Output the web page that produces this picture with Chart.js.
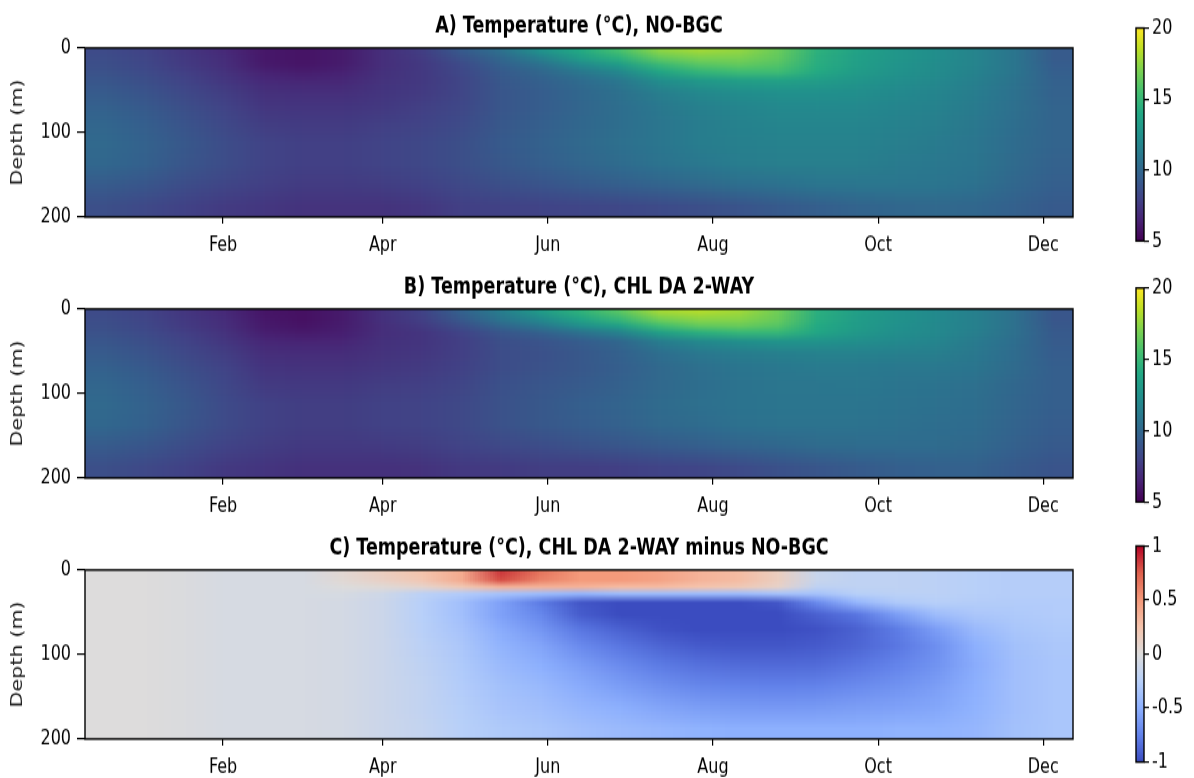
<!DOCTYPE html>
<html><head><meta charset="utf-8">
<script src="https://cdn.jsdelivr.net/npm/chart.js@4.4.1/dist/chart.umd.min.js"></script>
<style>
html,body{margin:0;padding:0;background:#fff;}
#wrap{position:relative;width:1194px;height:778px;overflow:hidden;}
canvas{position:absolute;transform-origin:0 0;}
</style></head><body><div id="wrap">
<canvas id="pA"></canvas><canvas id="pB"></canvas><canvas id="pC"></canvas>
<canvas id="cA"></canvas><canvas id="cB"></canvas><canvas id="cC"></canvas>
</div>
<script>
// ---- data ----
const days = [-12.7,1.9,16.5,31.1,45.7,60.3,74.9,89.5,104.1,118.7,133.3,147.9,162.5,177.1,191.7,206.3,220.9,235.5,250.1,264.7,279.3,293.9,308.5,323.1,337.7];
const depthEdges = [0,8,16,24,32,45,60,80,100,125,150,175,200];
const monthTickDays = [31,90,151,212,273,334];
const monthTickLabels = ['Feb','Apr','Jun','Aug','Oct','Dec'];
const depthTicks = [0,100,200];
const tempTicks = [5,10,15,20];
const diffTicks = [-1,-0.5,0,0.5,1];
const titles = ['A) Temperature (°C), NO-BGC','B) Temperature (°C), CHL DA 2-WAY','C) Temperature (°C), CHL DA 2-WAY minus NO-BGC'];

// one array per time column, values per depth layer (top to bottom)
const tempA = [
 [8.4,8.5,8.6,8.8,9.0,9.3,9.6,9.9,10.1,10.0,9.3,8.6],
 [8.0,8.1,8.2,8.4,8.6,8.9,9.2,9.5,9.7,9.6,9.0,8.3],
 [7.4,7.5,7.6,7.8,8.0,8.3,8.6,8.9,9.1,9.0,8.5,7.9],
 [6.8,6.9,7.0,7.2,7.4,7.7,8.0,8.3,8.5,8.5,8.1,7.6],
 [6.0,6.0,6.1,6.4,6.8,7.1,7.4,7.7,8.0,8.0,7.8,7.4],
 [5.8,5.8,5.9,6.2,6.6,7.0,7.3,7.6,7.8,7.8,7.6,7.2],
 [6.1,6.1,6.2,6.4,6.7,7.0,7.3,7.6,7.8,7.8,7.6,7.2],
 [7.0,7.0,7.0,7.1,7.2,7.3,7.5,7.8,8.0,8.0,7.7,7.2],
 [7.7,7.6,7.5,7.5,7.5,7.6,7.8,8.0,8.2,8.2,7.9,7.4],
 [9.2,8.8,8.4,8.2,8.1,8.1,8.2,8.4,8.6,8.6,8.3,7.8],
 [10.5,10.0,9.6,9.3,9.1,9.0,9.0,9.1,9.2,9.1,8.6,7.9],
 [12.5,11.5,10.6,10.0,9.6,9.4,9.4,9.5,9.6,9.5,8.9,8.0],
 [14.0,13.2,12.0,11.0,10.3,10.0,9.9,10.0,10.1,9.9,9.2,8.1],
 [15.5,14.5,13.2,12.0,11.0,10.6,10.4,10.4,10.5,10.3,9.5,8.2],
 [17.3,16.3,15.0,13.8,12.3,11.4,11.0,10.9,10.9,10.7,9.8,8.4],
 [17.8,17.0,16.0,14.8,13.0,12.0,11.5,11.3,11.3,11.0,10.1,8.6],
 [17.5,17.0,16.3,15.3,13.4,12.3,11.8,11.6,11.5,11.3,10.4,8.9],
 [16.5,16.3,15.9,15.3,13.6,12.5,12.0,11.8,11.6,11.4,10.6,9.2],
 [14.5,14.4,14.3,14.1,13.3,12.5,12.1,11.8,11.6,11.4,10.8,9.5],
 [13.6,13.5,13.4,13.2,12.8,12.4,12.0,11.8,11.6,11.4,10.9,9.8],
 [12.8,12.8,12.7,12.6,12.4,12.1,11.8,11.6,11.4,11.2,10.9,10.0],
 [12.3,12.3,12.2,12.2,12.0,11.8,11.6,11.4,11.2,11.0,10.8,10.1],
 [11.7,11.7,11.7,11.6,11.5,11.3,11.2,11.0,10.9,10.8,10.6,10.0],
 [10.8,10.8,10.8,10.8,10.7,10.6,10.5,10.4,10.3,10.2,10.0,9.6],
 [9.3,9.3,9.4,9.5,9.6,9.7,9.8,9.8,9.8,9.7,9.5,9.2]
];
const tempB = [
 [8.4,8.5,8.6,8.8,9.0,9.3,9.6,9.9,10.1,10.0,9.3,8.6],
 [8.0,8.1,8.2,8.4,8.6,8.9,9.2,9.5,9.7,9.6,9.0,8.3],
 [7.4,7.5,7.6,7.8,8.0,8.3,8.6,8.9,9.1,9.0,8.5,7.9],
 [6.8,6.9,7.0,7.2,7.4,7.7,8.0,8.2,8.4,8.4,8.0,7.5],
 [5.9,6.0,6.1,6.3,6.7,7.0,7.3,7.6,7.9,7.9,7.7,7.3],
 [5.7,5.7,5.8,6.1,6.5,6.9,7.2,7.5,7.7,7.7,7.5,7.1],
 [6.1,6.1,6.2,6.3,6.6,6.9,7.2,7.5,7.7,7.7,7.5,7.1],
 [7.1,7.1,7.0,7.0,7.1,7.2,7.4,7.7,7.9,7.9,7.6,7.1],
 [7.9,7.8,7.6,7.3,7.3,7.4,7.6,7.8,8.0,8.0,7.7,7.2],
 [9.6,9.2,8.6,8.0,7.8,7.8,7.9,8.1,8.3,8.3,8.0,7.5],
 [11.3,10.8,9.9,9.0,8.6,8.5,8.5,8.7,8.8,8.8,8.3,7.6],
 [13.1,12.1,11.0,9.6,8.9,8.7,8.8,9.0,9.1,9.1,8.5,7.7],
 [14.5,13.7,12.4,10.6,9.4,9.1,9.1,9.3,9.5,9.4,8.8,7.7],
 [16.0,15.0,13.5,11.6,10.0,9.6,9.5,9.6,9.8,9.7,9.0,7.8],
 [17.8,16.8,15.3,13.4,11.3,10.4,10.1,10.1,10.2,10.1,9.3,8.0],
 [18.2,17.4,16.3,14.4,12.0,11.0,10.5,10.4,10.5,10.3,9.5,8.1],
 [17.8,17.3,16.5,14.9,12.4,11.3,10.8,10.7,10.7,10.6,9.8,8.4],
 [16.7,16.5,16.0,14.9,12.7,11.5,11.0,10.9,10.8,10.7,10.0,8.7],
 [14.4,14.3,14.1,13.8,12.6,11.6,11.2,10.9,10.8,10.7,10.2,9.0],
 [13.4,13.3,13.2,13.0,12.4,11.6,11.1,11.0,10.8,10.7,10.3,9.3],
 [12.6,12.6,12.5,12.4,12.1,11.5,11.0,10.8,10.7,10.6,10.3,9.5],
 [12.1,12.1,12.0,12.0,11.8,11.4,11.0,10.7,10.6,10.4,10.3,9.6],
 [11.5,11.5,11.5,11.4,11.2,11.0,10.8,10.5,10.4,10.3,10.1,9.6],
 [10.5,10.5,10.5,10.5,10.4,10.3,10.2,10.0,9.9,9.8,9.6,9.2],
 [9.0,9.0,9.1,9.2,9.3,9.4,9.5,9.5,9.5,9.4,9.2,8.9]
];
const diffC = [
 [0,0,0,0,0,0,0,0,0,0,0,0],
 [0,0,0,0,0,0,0,0,0,0,0,0],
 [-0.02,-0.02,-0.02,-0.02,-0.02,-0.02,-0.02,-0.02,-0.02,-0.02,-0.02,-0.02],
 [-0.05,-0.05,-0.05,-0.05,-0.05,-0.05,-0.05,-0.05,-0.05,-0.05,-0.05,-0.05],
 [-0.05,-0.05,-0.05,-0.05,-0.05,-0.05,-0.05,-0.05,-0.05,-0.05,-0.05,-0.05],
 [-0.05,-0.05,-0.05,-0.05,-0.05,-0.05,-0.05,-0.05,-0.05,-0.05,-0.05,-0.05],
 [0.05,0.04,0,-0.05,-0.07,-0.07,-0.07,-0.07,-0.07,-0.07,-0.07,-0.07],
 [0.15,0.12,0.03,-0.1,-0.12,-0.12,-0.12,-0.12,-0.12,-0.12,-0.12,-0.12],
 [0.25,0.22,0.08,-0.22,-0.25,-0.25,-0.24,-0.22,-0.2,-0.18,-0.18,-0.17],
 [0.4,0.4,0.2,-0.28,-0.38,-0.38,-0.35,-0.32,-0.3,-0.28,-0.26,-0.25],
 [0.85,0.8,0.35,-0.35,-0.58,-0.58,-0.52,-0.47,-0.42,-0.37,-0.34,-0.3],
 [0.65,0.6,0.35,-0.4,-0.78,-0.72,-0.64,-0.56,-0.5,-0.43,-0.38,-0.33],
 [0.5,0.5,0.35,-0.45,-0.95,-0.92,-0.8,-0.7,-0.6,-0.52,-0.45,-0.38],
 [0.5,0.5,0.3,-0.4,-1.0,-1.0,-0.9,-0.8,-0.7,-0.6,-0.5,-0.42],
 [0.45,0.45,0.3,-0.4,-1.0,-1.0,-0.97,-0.88,-0.78,-0.67,-0.56,-0.45],
 [0.35,0.35,0.25,-0.4,-1.0,-1.0,-1.0,-0.93,-0.83,-0.72,-0.6,-0.48],
 [0.3,0.3,0.2,-0.4,-1.0,-1.0,-1.0,-0.95,-0.85,-0.74,-0.62,-0.5],
 [0.15,0.15,0.1,-0.35,-0.95,-1.0,-1.0,-0.95,-0.86,-0.75,-0.63,-0.5],
 [-0.15,-0.15,-0.2,-0.35,-0.7,-0.9,-0.97,-0.93,-0.85,-0.74,-0.62,-0.5],
 [-0.2,-0.2,-0.2,-0.25,-0.45,-0.8,-0.9,-0.88,-0.8,-0.7,-0.6,-0.5],
 [-0.2,-0.2,-0.2,-0.22,-0.3,-0.6,-0.78,-0.8,-0.74,-0.66,-0.58,-0.48],
 [-0.22,-0.22,-0.22,-0.22,-0.25,-0.4,-0.6,-0.68,-0.66,-0.6,-0.55,-0.48],
 [-0.25,-0.25,-0.25,-0.25,-0.27,-0.32,-0.42,-0.5,-0.52,-0.5,-0.48,-0.45],
 [-0.27,-0.27,-0.27,-0.27,-0.28,-0.3,-0.33,-0.37,-0.38,-0.38,-0.38,-0.37],
 [-0.27,-0.27,-0.27,-0.27,-0.28,-0.28,-0.3,-0.32,-0.33,-0.33,-0.33,-0.33]
];

// ---- colormaps ----
const viridisStops = ['#440154','#482475','#414487','#355f8d','#2a788e','#21918c','#22a884','#44bf70','#7ad151','#bddf26','#fde725'];
const coolwarmStops = ['#3b4cc0','#6282ea','#8db0fe','#b8d0f9','#dddcdc','#f5c4ad','#f49a7b','#de604d','#b40426'];
function hexRgb(h){return [parseInt(h.slice(1,3),16),parseInt(h.slice(3,5),16),parseInt(h.slice(5,7),16)];}
function makeCmap(stops,vmin,vmax){
  const rgb=stops.map(hexRgb);
  return v=>{
    let t=(v-vmin)/(vmax-vmin); t=Math.max(0,Math.min(1,t));
    const p=t*(rgb.length-1); const i=Math.min(rgb.length-2,Math.floor(p)); const f=p-i;
    const c=rgb[i].map((a,k)=>Math.round(a+(rgb[i+1][k]-a)*f));
    return 'rgb('+c.join(',')+')';
  };
}

// ---- layout (page pixels; canvases are stretched vertically by S) ----
const S = 1.3;
const FONT = "'DejaVu Sans',sans-serif";
const CH = 201;            // canvas height (page height CH*S)
const PW = 1158;           // panel canvas width
const TSIZE = 17.5;

const framePlugin={id:'frame',afterDraw(chart){
  const {ctx,chartArea:a}=chart; ctx.save(); ctx.strokeStyle='#000'; ctx.lineWidth=1.4;
  ctx.strokeRect(a.left,a.top,a.right-a.left,a.bottom-a.top); ctx.restore();}};

// shading: blend the drawn cells between cell centres (like interpolated pcolor shading)
const shadePlugin={id:'shade',afterDatasetsDraw(chart){
  const a=chart.chartArea, ctx=chart.ctx, ys=chart.scales.y;
  const L=Math.round(a.left), T=Math.round(a.top), W=Math.round(a.right)-L, H=Math.round(a.bottom)-T;
  const n=days.length;
  const small=document.createElement('canvas'); small.width=n; small.height=H;
  const sctx=small.getContext('2d'); sctx.imageSmoothingEnabled=false;
  sctx.drawImage(chart.canvas,L,T,W,H,0,0,n,H);
  const src=sctx.getImageData(0,0,n,H).data;
  const centers=[];
  for(let j=0;j<depthEdges.length-1;j++) centers.push(ys.getPixelForValue((depthEdges[j]+depthEdges[j+1])/2)-T);
  const rowOf=c=>Math.min(H-1,Math.max(0,Math.floor(c)));
  const out=sctx.createImageData(n,H);
  for(let y=0;y<H;y++){
    let k=0; while(k<centers.length-2 && centers[k+1]<y+0.5) k++;
    let f=(y+0.5-centers[k])/(centers[k+1]-centers[k]); f=Math.max(0,Math.min(1,f));
    const y0=rowOf(centers[k]), y1=rowOf(centers[k+1]);
    for(let x=0;x<n;x++){
      for(let c=0;c<4;c++){
        out.data[(y*n+x)*4+c]=Math.round(src[(y0*n+x)*4+c]*(1-f)+src[(y1*n+x)*4+c]*f);
      }
    }
  }
  sctx.putImageData(out,0,0);
  ctx.save(); ctx.beginPath(); ctx.rect(L,T,W,H); ctx.clip();
  ctx.imageSmoothingEnabled=true; ctx.imageSmoothingQuality='low';
  ctx.drawImage(small,0,0,n,H,L,T,W,H);
  ctx.restore();
}};

function makePanel(id,top,title,grid,cmap){
  const cv=document.getElementById(id);
  cv.width=PW; cv.height=CH; cv.style.left='0px'; cv.style.top=top+'px';
  cv.style.transform='scaleY('+S+')';
  const datasets=[];
  for(let j=0;j<depthEdges.length-1;j++){
    datasets.push({
      data: days.map(d=>({x:d,y:[depthEdges[j],depthEdges[j+1]]})),
      backgroundColor: days.map((d,i)=>cmap(grid[i][j])),
      borderWidth:0, grouped:false, barPercentage:1, categoryPercentage:1
    });
  }
  const titleLH=TSIZE*1.2;
  const tTop=27/S-titleLH/2, tBot=48/S-tTop-titleLH;
  new Chart(cv,{type:'bar',data:{datasets},plugins:[shadePlugin,framePlugin],options:{
    responsive:false, animation:false, events:[],
    layout:{padding:{left:0,right:PW-1073,top:0,bottom:0}},
    plugins:{legend:{display:false},tooltip:{enabled:false},
      title:{display:true,fullSize:false,text:title,color:'#000',font:{family:FONT,size:TSIZE,weight:'bold'},padding:{top:tTop,bottom:tBot}}},
    scales:{
      x:{type:'linear',min:-20,max:345,offset:false,
        afterBuildTicks:s=>{s.ticks=monthTickDays.map(v=>({value:v}));},
        ticks:{callback:(v,i)=>monthTickLabels[i],color:'#000',font:{family:FONT,size:16},padding:7,maxRotation:0,autoSkip:false},
        grid:{display:true,offset:false,drawOnChartArea:false,drawTicks:true,tickLength:5,color:'#000',lineWidth:1.2},
        border:{display:false},
        afterFit:s=>{s.height=CH-217/S;}},
      y:{type:'linear',reverse:true,min:0,max:200,
        afterBuildTicks:s=>{s.ticks=depthTicks.map(v=>({value:v}));},
        ticks:{color:'#000',font:{family:FONT,size:16},padding:6},
        grid:{display:true,drawOnChartArea:false,drawTicks:true,tickLength:8,color:'#000',lineWidth:1.2},
        border:{display:false},
        title:{display:true,text:'Depth (m)',color:'#222',font:{family:FONT,size:16},padding:{top:8.4,bottom:0}},
        afterFit:s=>{s.width=85;}}
    }}});
}

function makeColorbar(id,top,stops,vmin,vmax,ticks,barTop,barBottom){
  const cv=document.getElementById(id);
  cv.width=94; cv.height=CH; cv.style.left='1100px'; cv.style.top=top+'px';
  cv.style.transform='scaleY('+S+')';
  new Chart(cv,{type:'bar',plugins:[framePlugin],
    data:{labels:[''],datasets:[{data:[[vmin,vmax]],borderWidth:0,barPercentage:1,categoryPercentage:1,
      backgroundColor:(c)=>{const a=c.chart.chartArea; if(!a) return '#888';
        const g=c.chart.ctx.createLinearGradient(0,a.bottom,0,a.top);
        stops.forEach((s,k)=>g.addColorStop(k/(stops.length-1),s)); return g;}}]},
    options:{responsive:false,animation:false,events:[],
      layout:{padding:{left:36,right:0,top:barTop/S,bottom:CH-barBottom/S}},
      plugins:{legend:{display:false},tooltip:{enabled:false}},
      scales:{
        x:{display:false},
        y:{position:'right',min:vmin,max:vmax,
          afterBuildTicks:s=>{s.ticks=ticks.map(v=>({value:v}));},
          ticks:{color:'#000',font:{family:FONT,size:16},padding:3,callback:v=>String(v)},
          grid:{display:true,drawOnChartArea:false,drawTicks:true,tickLength:5,color:'#000',lineWidth:1.2},
          border:{display:false},
          afterFit:s=>{s.width=50;}}
      }}});
}

makePanel('pA',0,titles[0],tempA,makeCmap(viridisStops,5,20));
makePanel('pB',261,titles[1],tempB,makeCmap(viridisStops,5,20));
makePanel('pC',522,titles[2],diffC,makeCmap(coolwarmStops,-1,1));
makeColorbar('cA',0,viridisStops,5,20,tempTicks,28,241);
makeColorbar('cB',261,viridisStops,5,20,tempTicks,27,241);
makeColorbar('cC',522,coolwarmStops,-1,1,diffTicks,24,240);
</script></body></html>
